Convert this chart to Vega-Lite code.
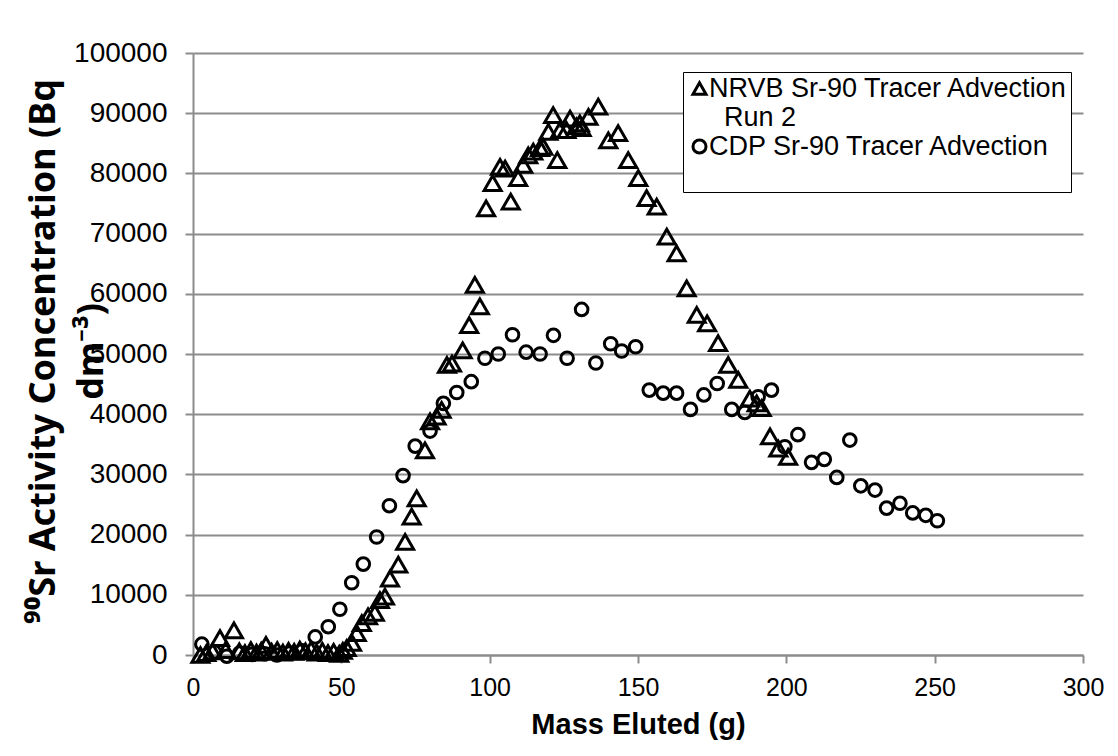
{
  "$schema": "https://vega.github.io/schema/vega-lite/v6.json",
  "width": 890,
  "height": 602,
  "autosize": {"type": "none"},
  "padding": {"left": 193, "top": 53, "right": 35, "bottom": 101},
  "background": "white",
  "data": {
    "values": [
      {"series": "NRVB", "mass": 2.5, "activity": 0},
      {"series": "NRVB", "mass": 4.5, "activity": 300},
      {"series": "NRVB", "mass": 6.6, "activity": 600},
      {"series": "NRVB", "mass": 9.1, "activity": 2800},
      {"series": "NRVB", "mass": 11.0, "activity": 800},
      {"series": "NRVB", "mass": 13.8, "activity": 4100},
      {"series": "NRVB", "mass": 15.6, "activity": 600},
      {"series": "NRVB", "mass": 17.5, "activity": 300},
      {"series": "NRVB", "mass": 19.5, "activity": 800},
      {"series": "NRVB", "mass": 21.4, "activity": 400},
      {"series": "NRVB", "mass": 23.0, "activity": 700},
      {"series": "NRVB", "mass": 24.6, "activity": 1700},
      {"series": "NRVB", "mass": 26.5, "activity": 500},
      {"series": "NRVB", "mass": 28.4, "activity": 800},
      {"series": "NRVB", "mass": 30.3, "activity": 400},
      {"series": "NRVB", "mass": 32.2, "activity": 700},
      {"series": "NRVB", "mass": 34.1, "activity": 500},
      {"series": "NRVB", "mass": 36.0, "activity": 900},
      {"series": "NRVB", "mass": 37.9, "activity": 600},
      {"series": "NRVB", "mass": 39.8, "activity": 900},
      {"series": "NRVB", "mass": 41.7, "activity": 400},
      {"series": "NRVB", "mass": 43.6, "activity": 700},
      {"series": "NRVB", "mass": 45.5, "activity": 300},
      {"series": "NRVB", "mass": 47.4, "activity": 500},
      {"series": "NRVB", "mass": 49.3, "activity": 200},
      {"series": "NRVB", "mass": 50.5, "activity": 700},
      {"series": "NRVB", "mass": 51.8, "activity": 1160},
      {"series": "NRVB", "mass": 53.6, "activity": 2000},
      {"series": "NRVB", "mass": 55.2, "activity": 3650},
      {"series": "NRVB", "mass": 56.9, "activity": 5300},
      {"series": "NRVB", "mass": 59.0, "activity": 6400},
      {"series": "NRVB", "mass": 61.3, "activity": 7000},
      {"series": "NRVB", "mass": 63.0, "activity": 9100},
      {"series": "NRVB", "mass": 64.7, "activity": 9700},
      {"series": "NRVB", "mass": 66.4, "activity": 12700},
      {"series": "NRVB", "mass": 69.2, "activity": 15000},
      {"series": "NRVB", "mass": 71.5, "activity": 18800},
      {"series": "NRVB", "mass": 73.7, "activity": 23000},
      {"series": "NRVB", "mass": 75.4, "activity": 26000},
      {"series": "NRVB", "mass": 78.2, "activity": 34000},
      {"series": "NRVB", "mass": 79.9, "activity": 38800},
      {"series": "NRVB", "mass": 82.1, "activity": 39600},
      {"series": "NRVB", "mass": 83.8, "activity": 40700},
      {"series": "NRVB", "mass": 85.6, "activity": 48200},
      {"series": "NRVB", "mass": 87.3, "activity": 48400},
      {"series": "NRVB", "mass": 90.9, "activity": 50600},
      {"series": "NRVB", "mass": 93.1, "activity": 54800},
      {"series": "NRVB", "mass": 95.0, "activity": 61500},
      {"series": "NRVB", "mass": 96.7, "activity": 57900},
      {"series": "NRVB", "mass": 98.8, "activity": 74200},
      {"series": "NRVB", "mass": 101.0, "activity": 78400},
      {"series": "NRVB", "mass": 103.5, "activity": 81100},
      {"series": "NRVB", "mass": 105.2, "activity": 80800},
      {"series": "NRVB", "mass": 107.1, "activity": 75300},
      {"series": "NRVB", "mass": 109.6, "activity": 79200},
      {"series": "NRVB", "mass": 111.3, "activity": 81400},
      {"series": "NRVB", "mass": 113.0, "activity": 83000},
      {"series": "NRVB", "mass": 114.7, "activity": 83600},
      {"series": "NRVB", "mass": 117.0, "activity": 84200},
      {"series": "NRVB", "mass": 118.1, "activity": 84400},
      {"series": "NRVB", "mass": 119.8, "activity": 86900},
      {"series": "NRVB", "mass": 121.4, "activity": 89700},
      {"series": "NRVB", "mass": 122.8, "activity": 82200},
      {"series": "NRVB", "mass": 123.7, "activity": 87200},
      {"series": "NRVB", "mass": 125.9, "activity": 87200},
      {"series": "NRVB", "mass": 127.1, "activity": 89100},
      {"series": "NRVB", "mass": 129.3, "activity": 87800},
      {"series": "NRVB", "mass": 130.4, "activity": 88300},
      {"series": "NRVB", "mass": 131.0, "activity": 87500},
      {"series": "NRVB", "mass": 133.3, "activity": 89400},
      {"series": "NRVB", "mass": 136.6, "activity": 91100},
      {"series": "NRVB", "mass": 140.0, "activity": 85500},
      {"series": "NRVB", "mass": 143.3, "activity": 86700},
      {"series": "NRVB", "mass": 146.7, "activity": 82200},
      {"series": "NRVB", "mass": 150.1, "activity": 79200},
      {"series": "NRVB", "mass": 152.9, "activity": 75900},
      {"series": "NRVB", "mass": 156.3, "activity": 74500},
      {"series": "NRVB", "mass": 159.7, "activity": 69500},
      {"series": "NRVB", "mass": 163.0, "activity": 66700},
      {"series": "NRVB", "mass": 166.4, "activity": 60900},
      {"series": "NRVB", "mass": 169.8, "activity": 56500},
      {"series": "NRVB", "mass": 173.3, "activity": 55100},
      {"series": "NRVB", "mass": 177.0, "activity": 51800},
      {"series": "NRVB", "mass": 180.4, "activity": 48200},
      {"series": "NRVB", "mass": 183.8, "activity": 45700},
      {"series": "NRVB", "mass": 187.7, "activity": 42600},
      {"series": "NRVB", "mass": 190.0, "activity": 41800},
      {"series": "NRVB", "mass": 191.7, "activity": 41000},
      {"series": "NRVB", "mass": 194.5, "activity": 36300},
      {"series": "NRVB", "mass": 197.3, "activity": 34300},
      {"series": "NRVB", "mass": 200.6, "activity": 32900},
      {"series": "CDP", "mass": 3.0, "activity": 1800},
      {"series": "CDP", "mass": 7.2, "activity": 500},
      {"series": "CDP", "mass": 11.4, "activity": -200},
      {"series": "CDP", "mass": 15.7, "activity": 300},
      {"series": "CDP", "mass": 19.9, "activity": 100},
      {"series": "CDP", "mass": 24.1, "activity": 200},
      {"series": "CDP", "mass": 28.3, "activity": 0},
      {"series": "CDP", "mass": 32.6, "activity": 300},
      {"series": "CDP", "mass": 36.8, "activity": 700},
      {"series": "CDP", "mass": 41.2, "activity": 3000},
      {"series": "CDP", "mass": 45.6, "activity": 4700},
      {"series": "CDP", "mass": 49.5, "activity": 7600},
      {"series": "CDP", "mass": 53.5, "activity": 12000},
      {"series": "CDP", "mass": 57.4, "activity": 15100},
      {"series": "CDP", "mass": 61.9, "activity": 19600},
      {"series": "CDP", "mass": 66.2, "activity": 24800},
      {"series": "CDP", "mass": 70.8, "activity": 29800},
      {"series": "CDP", "mass": 74.9, "activity": 34700},
      {"series": "CDP", "mass": 79.9, "activity": 37200},
      {"series": "CDP", "mass": 84.4, "activity": 41800},
      {"series": "CDP", "mass": 88.9, "activity": 43600},
      {"series": "CDP", "mass": 93.8, "activity": 45400},
      {"series": "CDP", "mass": 98.4, "activity": 49300},
      {"series": "CDP", "mass": 102.9, "activity": 50000},
      {"series": "CDP", "mass": 107.7, "activity": 53200},
      {"series": "CDP", "mass": 112.3, "activity": 50300},
      {"series": "CDP", "mass": 117.0, "activity": 50000},
      {"series": "CDP", "mass": 121.5, "activity": 53100},
      {"series": "CDP", "mass": 126.1, "activity": 49300},
      {"series": "CDP", "mass": 131.0, "activity": 57400},
      {"series": "CDP", "mass": 135.8, "activity": 48500},
      {"series": "CDP", "mass": 140.8, "activity": 51700},
      {"series": "CDP", "mass": 144.5, "activity": 50500},
      {"series": "CDP", "mass": 149.2, "activity": 51200},
      {"series": "CDP", "mass": 153.8, "activity": 44000},
      {"series": "CDP", "mass": 158.5, "activity": 43500},
      {"series": "CDP", "mass": 163.0, "activity": 43500},
      {"series": "CDP", "mass": 167.7, "activity": 40800},
      {"series": "CDP", "mass": 172.2, "activity": 43200},
      {"series": "CDP", "mass": 176.7, "activity": 45100},
      {"series": "CDP", "mass": 181.6, "activity": 40800},
      {"series": "CDP", "mass": 186.0, "activity": 40300},
      {"series": "CDP", "mass": 190.5, "activity": 42900},
      {"series": "CDP", "mass": 195.0, "activity": 44000},
      {"series": "CDP", "mass": 199.5, "activity": 34600},
      {"series": "CDP", "mass": 203.9, "activity": 36600},
      {"series": "CDP", "mass": 208.5, "activity": 32000},
      {"series": "CDP", "mass": 212.8, "activity": 32500},
      {"series": "CDP", "mass": 217.0, "activity": 29500},
      {"series": "CDP", "mass": 221.4, "activity": 35700},
      {"series": "CDP", "mass": 225.1, "activity": 28100},
      {"series": "CDP", "mass": 229.9, "activity": 27400},
      {"series": "CDP", "mass": 233.8, "activity": 24400},
      {"series": "CDP", "mass": 238.3, "activity": 25200},
      {"series": "CDP", "mass": 242.6, "activity": 23600},
      {"series": "CDP", "mass": 247.0, "activity": 23200},
      {"series": "CDP", "mass": 250.9, "activity": 22300}
    ]
  },
  "encoding": {
    "x": {
      "field": "mass", "type": "quantitative",
      "scale": {"domain": [0, 300], "nice": false, "zero": false},
      "axis": {
        "values": [0, 50, 100, 150, 200, 250, 300],
        "title": "Mass Eluted (g)",
        "grid": false,
        "tickSize": 8,
        "labelPadding": 12,
        "titlePadding": 10,
        "titleFontSize": 29
      }
    },
    "y": {
      "field": "activity", "type": "quantitative",
      "scale": {"domain": [0, 100000], "nice": false, "zero": false},
      "axis": {
        "values": [0, 10000, 20000, 30000, 40000, 50000, 60000, 70000, 80000, 90000, 100000],
        "format": "d",
        "title": ["⁹⁰Sr Activity Concentration (Bq", "dm⁻³)"],
        "grid": true,
        "tickSize": 8,
        "labelPadding": 18,
        "labelFontSize": 28,
        "titleFont": "Noto Sans",
        "titleFontSize": 36,
        "titleLineHeight": 48,
        "titleBaseline": "top",
        "titleX": -167,
        "titleY": 298
      }
    },
    "shape": {
      "field": "series", "type": "nominal",
      "scale": {
        "domain": ["NRVB", "Run 2", "CDP", "blank"],
        "range": ["triangle-up", "M0,0", "circle", "M0,0"]
      },
      "legend": {
        "orient": "none",
        "legendX": 490,
        "legendY": 19,
        "title": null,
        "labelExpr": "datum.value == 'NRVB' ? 'NRVB Sr-90 Tracer Advection' : datum.value == 'Run 2' ? '\u200b\u00a0\u00a0Run 2' : datum.value == 'CDP' ? 'CDP Sr-90 Tracer Advection' : '\u2002'",
        "symbolSize": 170,
        "symbolStrokeColor": "black",
        "symbolFillColor": "transparent",
        "symbolStrokeWidth": 3,
        "labelFontSize": 27,
        "labelFont": "Liberation Sans",
        "labelColor": "black",
        "labelLimit": 600,
        "labelOffset": -4,
        "rowPadding": 1,
        "padding": 3,
        "strokeColor": "black",
        "fillColor": "white"
      }
    }
  },
  "layer": [
    {
      "transform": [{"filter": "datum.series == 'NRVB'"}],
      "mark": {"type": "point", "filled": false, "stroke": "black", "strokeWidth": 3, "opacity": 1, "size": 290}
    },
    {
      "transform": [{"filter": "datum.series == 'CDP'"}],
      "mark": {"type": "point", "filled": false, "stroke": "black", "strokeWidth": 3, "opacity": 1, "size": 160}
    }
  ],
  "config": {
    "font": "Liberation Sans",
    "view": {"stroke": null},
    "axis": {
      "labelFont": "Liberation Sans",
      "labelFontSize": 25,
      "labelColor": "black",
      "titleFont": "Liberation Sans",
      "titleFontWeight": "bold",
      "titleColor": "black",
      "domainColor": "#8c8c8c",
      "domainWidth": 2,
      "tickColor": "#8c8c8c",
      "tickWidth": 2,
      "gridColor": "#8c8c8c",
      "gridWidth": 2,
      "labelOverlap": false,
      "labelFlush": false
    }
  }
}
